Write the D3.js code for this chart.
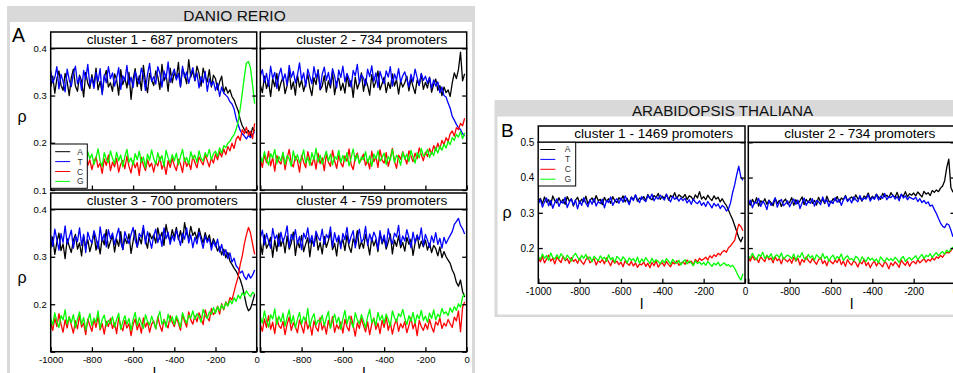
<!DOCTYPE html>
<html><head><meta charset="utf-8">
<script src="https://cdn.jsdelivr.net/npm/d3@7"></script>
<style>body{margin:0;background:#fff}svg{display:block;font-family:"Liberation Sans",Arial,Helvetica,sans-serif}</style>
</head><body><svg id="c" width="953" height="373"></svg>
<script>
// ---------- categories / labels ----------
const positions = d3.range(-1000, 0, 10);        // l, nucleotide position
const bases = ["A", "T", "C", "G"];
const baseColors = ["#000000", "#0000ff", "#ff0000", "#00ff00"];
const xTicks = [-1000, -800, -600, -400, -200, 0];
const yTicksDanio = [0.1, 0.2, 0.3, 0.4];
const yTicksArab = [0.2, 0.3, 0.4, 0.5];
const danioTitles = ["cluster 1 - 687 promoters", "cluster 2 - 734 promoters", "cluster 3 - 700 promoters", "cluster 4 - 759 promoters"];
const arabTitles = ["cluster 1 - 1469 promoters", "cluster 2 - 734 promoters"];

// ---------- DANIO RERIO, cluster 1 ----------
const d1A = [.318,.341,.305,.336,.352,.322,.311,.347,.329,.300,.338,.356,.320,.309,.343,.331,.297,.349,.326,.315,.344,.321,.358,.312,.330,.305,.339,.353,.318,.327,.309,.346,.334,.301,.355,.323,.338,.316,.349,.292,.335,.357,.319,.342,.311,.364,.328,.306,.347,.333,.321,.352,.340,.313,.366,.331,.345,.309,.358,.327,.349,.336,.370,.318,.357,.344,.325,.376,.339,.352,.331,.362,.347,.320,.358,.341,.329,.355,.318,.343,.336,.312,.329,.341,.306,.318,.305,.312,.298,.291,.279,.268,.249,.236,.228,.221,.226,.215,.232,.224];
const d1T = [.352,.327,.338,.361,.314,.345,.330,.308,.356,.333,.319,.347,.362,.325,.340,.311,.353,.334,.366,.322,.338,.315,.349,.330,.357,.302,.344,.327,.361,.336,.348,.320,.337,.359,.313,.342,.331,.364,.323,.339,.317,.351,.336,.325,.358,.343,.311,.345,.368,.330,.340,.324,.361,.347,.318,.352,.335,.371,.328,.344,.356,.333,.347,.319,.362,.338,.350,.326,.345,.359,.332,.348,.316,.340,.327,.351,.309,.335,.321,.330,.311,.326,.298,.318,.305,.301,.296,.287,.282,.272,.252,.238,.226,.219,.214,.208,.216,.211,.218,.222];
const d1C = [.158,.172,.149,.166,.181,.153,.162,.140,.175,.157,.147,.168,.155,.139,.171,.160,.146,.178,.152,.164,.143,.161,.170,.148,.157,.135,.166,.152,.174,.141,.159,.149,.167,.138,.155,.163,.145,.172,.150,.136,.162,.147,.158,.131,.169,.153,.141,.164,.149,.157,.138,.160,.151,.170,.144,.156,.133,.162,.148,.167,.152,.141,.165,.155,.137,.168,.150,.159,.143,.172,.158,.147,.170,.161,.153,.175,.162,.149,.168,.157,.176,.164,.181,.170,.187,.175,.192,.183,.199,.188,.207,.214,.205,.228,.219,.233,.216,.224,.209,.241];
const d1G = [.171,.158,.182,.164,.150,.176,.167,.189,.155,.173,.162,.179,.151,.185,.169,.157,.174,.148,.181,.166,.176,.154,.168,.187,.161,.150,.179,.165,.158,.183,.167,.156,.180,.162,.174,.149,.171,.186,.159,.168,.153,.177,.164,.182,.158,.170,.147,.176,.163,.185,.166,.155,.179,.161,.173,.150,.184,.168,.157,.175,.162,.178,.153,.171,.186,.160,.169,.155,.181,.166,.174,.158,.183,.167,.161,.179,.170,.186,.164,.177,.182,.171,.189,.178,.194,.190,.199,.203,.211,.217,.228,.245,.272,.305,.340,.369,.372,.358,.322,.283];
// ---------- DANIO RERIO, cluster 2 ----------
const d2A = [.322,.306,.341,.315,.330,.298,.336,.319,.347,.310,.327,.339,.304,.321,.352,.313,.329,.301,.344,.318,.333,.309,.326,.345,.317,.300,.338,.323,.355,.312,.320,.342,.307,.331,.316,.349,.302,.328,.337,.311,.326,.305,.343,.319,.332,.296,.339,.314,.327,.348,.309,.335,.321,.301,.344,.317,.330,.352,.312,.325,.339,.306,.328,.315,.346,.320,.334,.303,.331,.318,.327,.341,.310,.336,.319,.304,.333,.322,.345,.313,.328,.316,.339,.307,.324,.335,.311,.321,.300,.318,.306,.312,.298,.327,.348,.336,.355,.392,.331,.346];
const d2T = [.341,.355,.328,.347,.320,.362,.336,.349,.315,.343,.358,.331,.346,.322,.364,.338,.351,.327,.343,.369,.333,.348,.319,.356,.340,.325,.361,.337,.352,.314,.345,.360,.332,.349,.323,.357,.341,.316,.354,.338,.362,.329,.347,.335,.318,.353,.342,.366,.326,.344,.337,.321,.356,.340,.363,.330,.348,.317,.351,.336,.325,.352,.339,.361,.320,.346,.333,.357,.328,.342,.350,.334,.318,.345,.329,.356,.338,.321,.347,.332,.341,.326,.338,.315,.333,.320,.329,.306,.318,.300,.297,.284,.273,.256,.248,.239,.232,.228,.219,.214];
const d2C = [.166,.148,.175,.158,.182,.151,.169,.140,.173,.160,.155,.178,.143,.167,.186,.157,.149,.171,.162,.138,.174,.159,.147,.181,.163,.152,.170,.144,.178,.156,.168,.141,.176,.159,.150,.184,.162,.146,.173,.157,.149,.172,.161,.187,.154,.143,.169,.178,.158,.165,.176,.152,.164,.145,.182,.160,.171,.148,.185,.163,.157,.179,.150,.168,.188,.161,.146,.174,.165,.181,.169,.155,.183,.172,.160,.178,.166,.189,.175,.162,.180,.171,.188,.176,.194,.183,.199,.187,.205,.196,.211,.203,.219,.225,.214,.232,.228,.241,.236,.252];
const d2G = [.172,.159,.181,.164,.153,.177,.168,.186,.156,.171,.161,.180,.154,.173,.166,.150,.183,.162,.175,.158,.167,.185,.157,.170,.152,.179,.164,.188,.159,.174,.155,.169,.182,.161,.176,.153,.171,.165,.184,.158,.173,.160,.179,.151,.168,.187,.162,.175,.156,.170,.164,.181,.157,.172,.150,.176,.166,.183,.161,.169,.178,.154,.171,.163,.186,.158,.174,.167,.152,.180,.165,.176,.160,.184,.170,.157,.179,.168,.188,.172,.175,.186,.169,.181,.173,.190,.178,.193,.184,.197,.189,.203,.196,.211,.205,.218,.212,.224,.209,.221];
// ---------- DANIO RERIO, cluster 3 ----------
const d3A = [.318,.342,.305,.331,.350,.313,.327,.296,.338,.322,.309,.335,.347,.316,.329,.302,.344,.320,.336,.311,.328,.351,.314,.333,.306,.340,.325,.357,.318,.332,.345,.310,.337,.322,.353,.315,.339,.328,.348,.307,.333,.356,.320,.341,.327,.360,.335,.318,.350,.338,.346,.329,.361,.337,.352,.324,.368,.343,.333,.357,.341,.362,.336,.355,.330,.372,.348,.339,.364,.345,.352,.337,.360,.343,.329,.351,.334,.346,.322,.338,.327,.312,.321,.304,.316,.298,.309,.291,.284,.276,.270,.261,.252,.238,.219,.198,.186,.191,.205,.221];
const d3T = [.345,.322,.358,.336,.314,.349,.330,.365,.327,.341,.356,.318,.343,.332,.361,.324,.347,.309,.352,.337,.329,.355,.340,.317,.363,.334,.348,.321,.357,.338,.350,.326,.344,.360,.331,.315,.353,.339,.328,.347,.362,.335,.321,.349,.341,.366,.327,.353,.336,.318,.344,.358,.330,.347,.322,.361,.338,.352,.326,.345,.333,.356,.341,.324,.350,.337,.361,.329,.346,.319,.341,.327,.352,.335,.318,.344,.330,.339,.314,.333,.321,.337,.310,.326,.303,.315,.296,.308,.289,.297,.281,.276,.266,.270,.258,.252,.264,.255,.261,.272];
const d3C = [.162,.145,.171,.153,.180,.158,.141,.167,.150,.174,.156,.139,.165,.148,.177,.152,.160,.136,.169,.155,.143,.168,.151,.175,.146,.159,.137,.164,.153,.170,.149,.161,.138,.172,.155,.144,.166,.150,.159,.134,.157,.169,.146,.160,.139,.171,.152,.163,.141,.158,.165,.148,.174,.155,.143,.168,.159,.150,.176,.162,.153,.171,.160,.145,.179,.164,.152,.184,.167,.158,.176,.163,.182,.170,.157,.188,.172,.165,.191,.178,.184,.196,.179,.201,.188,.205,.197,.214,.209,.226,.243,.258,.284,.302,.327,.346,.362,.350,.327,.305];
const d3G = [.170,.156,.182,.163,.151,.176,.167,.188,.158,.173,.161,.178,.150,.169,.184,.157,.172,.146,.165,.180,.155,.171,.162,.186,.149,.168,.177,.154,.166,.159,.174,.152,.168,.181,.147,.163,.176,.158,.170,.145,.167,.183,.155,.172,.160,.149,.178,.164,.156,.175,.162,.148,.171,.185,.158,.167,.152,.179,.163,.174,.157,.176,.165,.151,.182,.169,.160,.177,.171,.186,.168,.180,.174,.162,.189,.176,.170,.184,.179,.193,.181,.195,.186,.199,.190,.204,.196,.208,.201,.214,.206,.219,.212,.224,.218,.228,.221,.216,.225,.222];
// ---------- DANIO RERIO, cluster 4 ----------
const d4A = [.331,.305,.346,.318,.327,.341,.299,.335,.312,.350,.322,.338,.308,.344,.316,.329,.352,.303,.333,.319,.345,.311,.327,.340,.300,.336,.323,.349,.314,.330,.306,.343,.320,.334,.352,.315,.328,.302,.341,.324,.337,.313,.346,.321,.309,.338,.326,.355,.317,.332,.318,.347,.329,.304,.340,.323,.336,.311,.350,.327,.339,.316,.331,.348,.306,.335,.322,.344,.319,.330,.312,.341,.326,.337,.303,.329,.346,.318,.333,.321,.335,.314,.328,.309,.324,.317,.302,.321,.298,.311,.300,.293,.286,.272,.263,.246,.238,.251,.227,.215];
const d4T = [.340,.356,.325,.349,.333,.318,.360,.337,.346,.322,.352,.331,.344,.365,.320,.347,.336,.357,.327,.343,.315,.350,.338,.361,.329,.345,.322,.354,.341,.334,.358,.326,.347,.339,.363,.321,.351,.332,.345,.317,.349,.336,.362,.328,.343,.355,.319,.340,.358,.331,.337,.364,.324,.348,.333,.352,.341,.316,.355,.330,.346,.321,.359,.338,.327,.350,.342,.366,.325,.344,.333,.357,.340,.319,.352,.329,.345,.336,.361,.323,.347,.335,.320,.344,.330,.351,.326,.339,.318,.341,.328,.337,.345,.353,.368,.374,.381,.366,.359,.348];
const d4C = [.158,.143,.169,.151,.176,.147,.162,.138,.171,.155,.149,.164,.136,.158,.173,.145,.161,.152,.140,.167,.154,.139,.170,.148,.160,.135,.165,.151,.143,.172,.146,.159,.137,.166,.150,.174,.141,.157,.148,.163,.139,.168,.152,.144,.175,.156,.133,.161,.149,.170,.155,.142,.163,.136,.158,.171,.147,.160,.138,.166,.151,.174,.145,.162,.137,.157,.168,.143,.159,.150,.164,.140,.155,.172,.148,.161,.134,.166,.153,.145,.159,.147,.168,.152,.141,.163,.156,.171,.149,.160,.154,.168,.159,.151,.173,.165,.186,.142,.193,.205];
const d4G = [.173,.160,.186,.165,.152,.178,.169,.190,.157,.175,.163,.181,.154,.172,.188,.159,.176,.150,.168,.183,.158,.174,.164,.191,.153,.170,.180,.156,.167,.162,.177,.155,.171,.185,.149,.166,.179,.160,.173,.147,.169,.187,.158,.175,.163,.151,.182,.167,.159,.178,.165,.150,.174,.189,.161,.170,.155,.183,.166,.177,.160,.179,.168,.154,.186,.172,.163,.180,.174,.189,.171,.157,.176,.164,.183,.160,.178,.169,.187,.166,.175,.162,.181,.170,.188,.167,.179,.173,.191,.180,.184,.176,.192,.183,.195,.187,.201,.194,.215,.222];
// ---------- ARABIDOPSIS THALIANA, cluster 1 ----------
const a1A = [.332,.341,.326,.345,.330,.337,.322,.348,.334,.328,.343,.329,.338,.324,.346,.333,.340,.319,.336,.344,.327,.339,.331,.347,.325,.336,.342,.330,.349,.334,.338,.323,.344,.332,.340,.327,.346,.335,.329,.343,.336,.348,.331,.341,.326,.345,.337,.350,.333,.342,.339,.346,.334,.352,.341,.337,.349,.343,.355,.338,.347,.341,.353,.336,.349,.344,.357,.340,.351,.346,.343,.352,.338,.348,.345,.336,.351,.342,.360,.339,.346,.337,.350,.341,.335,.348,.339,.344,.331,.340,.329,.321,.308,.294,.281,.264,.247,.229,.218,.232];
const a1T = [.325,.338,.316,.331,.342,.320,.335,.313,.329,.340,.318,.333,.327,.344,.315,.330,.339,.322,.336,.311,.334,.321,.343,.328,.317,.337,.324,.341,.319,.332,.326,.339,.314,.335,.329,.345,.321,.333,.340,.327,.342,.330,.348,.336,.323,.344,.335,.351,.338,.329,.346,.337,.332,.349,.341,.353,.334,.345,.339,.350,.343,.336,.352,.340,.331,.347,.338,.344,.333,.342,.335,.341,.328,.337,.324,.339,.330,.326,.334,.321,.329,.318,.332,.323,.314,.327,.319,.325,.312,.321,.316,.305,.311,.328,.357,.379,.408,.432,.401,.392];
const a1C = [.172,.161,.176,.158,.169,.180,.163,.171,.155,.174,.166,.159,.177,.164,.170,.156,.173,.162,.168,.157,.171,.160,.154,.167,.175,.158,.163,.170,.152,.165,.159,.168,.155,.172,.161,.150,.166,.157,.163,.153,.160,.147,.164,.156,.151,.162,.149,.158,.145,.155,.152,.161,.148,.157,.144,.159,.150,.163,.146,.154,.158,.149,.162,.153,.147,.160,.155,.164,.151,.157,.161,.154,.166,.158,.163,.152,.168,.160,.171,.165,.169,.174,.166,.178,.172,.181,.176,.185,.180,.189,.193,.188,.201,.206,.214,.222,.246,.268,.261,.249];
const a1G = [.176,.168,.183,.171,.179,.165,.186,.173,.169,.181,.170,.184,.175,.167,.180,.172,.163,.178,.185,.174,.166,.179,.171,.182,.168,.175,.161,.177,.170,.164,.178,.169,.174,.162,.181,.167,.173,.159,.176,.171,.163,.175,.168,.158,.172,.165,.170,.160,.174,.157,.169,.161,.173,.164,.156,.171,.159,.167,.162,.155,.166,.158,.170,.163,.154,.168,.160,.157,.165,.152,.161,.167,.155,.163,.158,.150,.164,.156,.160,.153,.159,.151,.162,.155,.148,.157,.152,.160,.149,.154,.158,.150,.153,.147,.151,.143,.130,.118,.109,.127];
// ---------- ARABIDOPSIS THALIANA, cluster 2 ----------
const a2A = [.331,.322,.338,.326,.343,.319,.334,.328,.340,.324,.336,.329,.320,.341,.327,.335,.318,.332,.339,.325,.330,.343,.321,.337,.326,.334,.345,.323,.338,.329,.341,.327,.335,.322,.344,.331,.338,.326,.347,.333,.328,.340,.335,.346,.330,.342,.337,.349,.334,.341,.345,.336,.351,.339,.344,.333,.348,.342,.356,.338,.347,.341,.353,.344,.338,.355,.346,.350,.343,.357,.349,.344,.358,.341,.352,.347,.360,.345,.354,.350,.356,.348,.359,.352,.345,.361,.353,.357,.349,.363,.358,.365,.360,.370,.376,.391,.428,.452,.372,.358];
const a2T = [.322,.336,.314,.330,.327,.341,.318,.333,.325,.309,.335,.321,.329,.343,.316,.331,.338,.320,.326,.334,.317,.330,.339,.324,.336,.312,.328,.342,.321,.333,.327,.340,.319,.335,.331,.323,.345,.329,.337,.318,.334,.326,.343,.330,.338,.321,.336,.347,.332,.340,.328,.345,.337,.331,.349,.335,.342,.339,.351,.333,.344,.338,.352,.336,.347,.341,.355,.337,.346,.343,.350,.339,.346,.334,.353,.342,.348,.337,.345,.341,.338,.344,.332,.340,.329,.335,.326,.331,.319,.322,.309,.298,.284,.271,.262,.258,.269,.266,.251,.232];
const a2C = [.174,.163,.178,.166,.171,.159,.176,.168,.162,.180,.167,.172,.158,.175,.164,.170,.155,.173,.166,.161,.169,.157,.174,.163,.171,.152,.168,.160,.175,.165,.158,.170,.162,.154,.167,.173,.156,.164,.150,.168,.161,.155,.166,.159,.171,.153,.163,.148,.167,.157,.152,.164,.158,.146,.161,.155,.168,.150,.159,.144,.156,.163,.149,.160,.153,.147,.162,.155,.141,.158,.150,.161,.154,.145,.166,.157,.151,.163,.148,.159,.162,.155,.167,.158,.164,.170,.160,.168,.163,.172,.166,.175,.171,.179,.174,.183,.188,.186,.192,.201];
const a2G = [.178,.171,.185,.174,.167,.182,.176,.188,.170,.179,.173,.184,.168,.177,.181,.172,.186,.169,.175,.180,.176,.170,.183,.165,.179,.174,.187,.171,.168,.182,.172,.178,.166,.181,.175,.169,.184,.170,.177,.163,.174,.180,.167,.176,.171,.183,.165,.173,.178,.168,.170,.164,.177,.172,.160,.175,.168,.162,.174,.166,.171,.163,.169,.158,.175,.167,.161,.172,.165,.170,.164,.174,.168,.159,.171,.176,.162,.169,.173,.166,.172,.178,.167,.175,.182,.170,.179,.176,.184,.173,.181,.187,.178,.185,.190,.183,.194,.189,.196,.203];

// ---------- layout (pixels) ----------
const svg = d3.select("#c");
const GRAY = "#d9d9d9";
const FONT = '"Liberation Sans", Arial, Helvetica, sans-serif';

svg.append("rect").attr("x", 7).attr("y", 6).attr("width", 468).attr("height", 380).attr("fill", GRAY);
svg.append("rect").attr("x", 10).attr("y", 22).attr("width", 462).attr("height", 360).attr("fill", "#fff");
svg.append("rect").attr("x", 494.5).attr("y", 100).attr("width", 470).attr("height", 217).attr("fill", GRAY);
svg.append("rect").attr("x", 497.5).attr("y", 116.5).attr("width", 470).attr("height", 198).attr("fill", "#fff");

svg.append("text").attr("x", 234.5).attr("y", 20.6).attr("text-anchor", "middle")
  .attr("font-size", 15.5).attr("fill", "#111").text("DANIO RERIO");
svg.append("text").attr("x", 722.5).attr("y", 115.6).attr("text-anchor", "middle")
  .attr("font-size", 15.2).attr("fill", "#111").text("ARABIDOPSIS THALIANA");
svg.append("text").attr("x", 12).attr("y", 41.8).attr("font-size", 19.5).text("A");
svg.append("text").attr("x", 501).attr("y", 136.8).attr("font-size", 19).text("B");

const panels = [
  {title: danioTitles[0], series: [d1A, d1T, d1C, d1G], left: 50.7, right: 256.7, htop: 32, top: 48.3, bottom: 190, domain: [0.1, 0.4], yTicks: yTicksDanio, yLabels: yTicksDanio, xLabels: [], legend: true, fs: 9.5},
  {title: danioTitles[1], series: [d2A, d2T, d2C, d2G], left: 260.3, right: 466.7, htop: 32, top: 48.3, bottom: 190, domain: [0.1, 0.4], yTicks: yTicksDanio, yLabels: [], xLabels: [], legend: false, fs: 9.5},
  {title: danioTitles[2], series: [d3A, d3T, d3C, d3G], left: 50.7, right: 256.7, htop: 193, top: 209.3, bottom: 351.7, domain: [0.1, 0.4], yTicks: yTicksDanio, yLabels: [0.2, 0.3, 0.4], xLabels: xTicks, legend: false, fs: 9.5},
  {title: danioTitles[3], series: [d4A, d4T, d4C, d4G], left: 260.3, right: 466.7, htop: 193, top: 209.3, bottom: 351.7, domain: [0.1, 0.4], yTicks: yTicksDanio, yLabels: [], xLabels: xTicks.slice(1), legend: false, fs: 9.5},
  {title: arabTitles[0], series: [a1A, a1T, a1C, a1G], left: 538.3, right: 745, htop: 126, top: 142.3, bottom: 283.3, domain: [0.1, 0.5], yTicks: yTicksArab, yLabels: yTicksArab, xLabels: xTicks, legend: true, fs: 10},
  {title: arabTitles[1], series: [a2A, a2T, a2C, a2G], left: 748.3, right: 955, htop: 126, top: 142.3, bottom: 283.3, domain: [0.1, 0.5], yTicks: yTicksArab, yLabels: [], xLabels: xTicks.slice(1), legend: false, fs: 10}
];

panels.forEach((p, pi) => {
  const g = svg.append("g");
  const x = d3.scaleLinear().domain([-1000, 0]).range([p.left, p.right]);
  const y = d3.scaleLinear().domain(p.domain).range([p.bottom, p.top]);
  const cid = "clip" + pi;
  g.append("clipPath").attr("id", cid).append("rect")
    .attr("x", p.left).attr("y", p.top).attr("width", p.right - p.left).attr("height", p.bottom - p.top);

  const line = d3.line().x((d, i) => x(positions[i])).y(d => y(d));
  const lg = g.append("g").attr("clip-path", `url(#${cid})`);
  p.series.forEach((s, si) => {
    lg.append("path").datum(s).attr("d", line).attr("fill", "none")
      .attr("stroke", baseColors[si]).attr("stroke-width", 1.3).attr("stroke-linejoin", "round");
  });

  const fmt = d3.format(".1f");
  const left = g.append("g").attr("transform", `translate(${p.left},0)`)
    .call(d3.axisLeft(y).tickValues(p.yTicks).tickSizeInner(-4.5).tickSizeOuter(0).tickPadding(4)
      .tickFormat(v => p.yLabels.some(l => Math.abs(l - v) < 1e-9) ? fmt(v) : ""));
  const right = g.append("g").attr("transform", `translate(${p.right},0)`)
    .call(d3.axisRight(y).tickValues(p.yTicks).tickSizeInner(-4.5).tickSizeOuter(0).tickFormat(""));
  const bottom = g.append("g").attr("transform", `translate(0,${p.bottom})`)
    .call(d3.axisBottom(x).tickValues(xTicks).tickSizeInner(-4.5).tickSizeOuter(0).tickPadding(5)
      .tickFormat(v => p.xLabels.includes(v) ? String(v) : ""));
  [left, right, bottom].forEach(a => {
    a.select(".domain").remove();
    a.selectAll("line").attr("stroke", "#000").attr("stroke-width", 1.3);
    a.selectAll("text").attr("font-family", FONT).attr("font-size", p.fs).attr("fill", "#000");
  });

  g.append("rect").attr("x", p.left).attr("y", p.top).attr("width", p.right - p.left).attr("height", p.bottom - p.top)
    .attr("fill", "none").attr("stroke", "#000").attr("stroke-width", 1.5);
  g.append("rect").attr("x", p.left).attr("y", p.htop).attr("width", p.right - p.left).attr("height", p.top - p.htop)
    .attr("fill", "#fff").attr("stroke", "#000").attr("stroke-width", 1.5);
  g.append("text").attr("x", p.left + 36).attr("y", p.top - 4.3).attr("font-size", 13.6).attr("fill", "#000").text(p.title);

  if (p.legend) {
    const lgd = g.append("g").attr("transform", `translate(${p.left},${pi === 0 ? 144 : p.top})`);
    lgd.append("rect").attr("x", 0).attr("y", 0).attr("width", pi === 0 ? 36.6 : 37.4).attr("height", pi === 0 ? 44.3 : 43.7)
      .attr("fill", "#fff").attr("stroke", "#000").attr("stroke-width", 1);
    bases.forEach((b, bi) => {
      const yy = (pi === 0 ? 7.7 : 7.2) + bi * 9.9;
      lgd.append("line").attr("x1", pi === 0 ? 4.5 : 2).attr("x2", pi === 0 ? 19.5 : 17).attr("y1", yy).attr("y2", yy)
        .attr("stroke", baseColors[bi]).attr("stroke-width", 1);
      lgd.append("text").attr("x", pi === 0 ? 29.5 : 29.4).attr("y", yy + 3).attr("text-anchor", "middle")
        .attr("font-size", 8.5).attr("fill", "#333").text(b);
    });
  }
});

[[22, 121.6], [22, 282.5], [507, 217.5]].forEach(([px, py]) =>
  svg.append("text").attr("x", px).attr("y", py).attr("text-anchor", "middle").attr("font-size", 16).text("ρ"));
[[154.3, 378], [364, 378], [641.7, 309.3], [851.7, 309.3]].forEach(([px, py]) =>
  svg.append("text").attr("x", px).attr("y", py).attr("text-anchor", "middle").attr("font-size", 15).text("l"));
</script></body></html>
